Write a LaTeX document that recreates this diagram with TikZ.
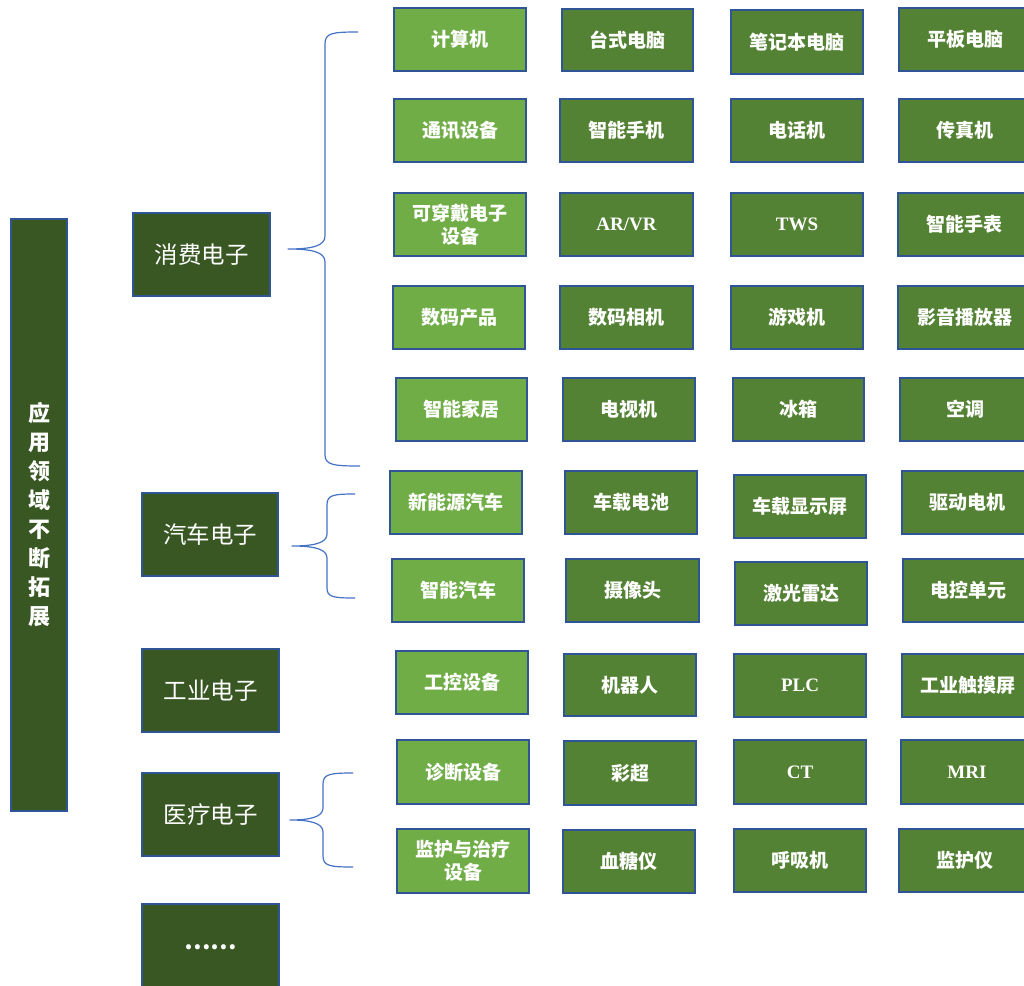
\documentclass[tikz,border=0pt]{standalone}
\usepackage{fontspec}
\newfontfamily\cjk{Noto Sans CJK SC}
\newfontfamily\lat{Liberation Serif}
\definecolor{dk}{HTML}{385723}
\definecolor{lg}{HTML}{70AD47}
\definecolor{mg}{HTML}{548235}
\definecolor{bd}{HTML}{2F5597}
\definecolor{br}{HTML}{4472C4}
\tikzset{
  base/.style={draw=bd, line width=2.4pt, text=white, inner sep=0pt, align=center},
  rootbox/.style={base, fill=dk, font=\cjk\bfseries\fontsize{22}{29}\selectfont},
  catbox/.style={base, fill=dk, font=\cjk\fontsize{23.5}{28}\selectfont},
  firstbox/.style={base, fill=lg, font=\cjk\bfseries\fontsize{19}{23}\selectfont},
  itembox/.style={base, fill=mg, font=\cjk\bfseries\fontsize{19}{23}\selectfont},
  latin/.style={font=\lat\bfseries\fontsize{19}{23}\selectfont},
  bracel/.style={draw=br, line width=1.2pt, line join=round}
}
\newcommand\cell[7]{\node[#6, minimum width={(#4-#2-2.4)*1pt}, minimum height={(#5-#3-2.4)*1pt}] (#1) at ({(#2+#4)/2},{(#3+#5)/2}) {#7};}
\begin{document}
\begin{tikzpicture}[x=1pt,y=-1pt]
\useasboundingbox (0,0) rectangle (1024,985);
% root and categories
\cell{root}{10}{218}{68}{812}{rootbox}{应\\用\\领\\域\\不\\断\\拓\\展}
\cell{c1}{132}{212}{271}{297}{catbox}{消费电子}
\cell{c2}{141}{492}{279}{577}{catbox}{汽车电子}
\cell{c3}{141}{648}{280}{733}{catbox}{工业电子}
\cell{c4}{141}{772}{280}{857}{catbox}{医疗电子}
\cell{c5}{141}{903}{280}{992}{catbox}{\raisebox{-2pt}{\bfseries……}}
% row 1
\cell{r1a}{393}{7}{527}{72}{firstbox}{计算机}
\cell{r1b}{561}{8}{694}{72}{itembox}{台式电脑}
\cell{r1c}{730}{9}{864}{75}{itembox}{笔记本电脑}
\cell{r1d}{898}{7}{1032}{72}{itembox}{平板电脑}
% row 2
\cell{r2a}{393}{98}{527}{163}{firstbox}{通讯设备}
\cell{r2b}{559}{98}{694}{163}{itembox}{智能手机}
\cell{r2c}{730}{98}{864}{163}{itembox}{电话机}
\cell{r2d}{898}{98}{1032}{163}{itembox}{传真机}
% row 3
\cell{r3a}{393}{192}{527}{257}{firstbox}{可穿戴电子\\设备}
\cell{r3b}{559}{192}{694}{257}{itembox,latin}{AR/VR}
\cell{r3c}{730}{192}{864}{257}{itembox,latin}{TWS}
\cell{r3d}{897}{192}{1032}{257}{itembox}{智能手表}
% row 4
\cell{r4a}{392}{285}{526}{350}{firstbox}{数码产品}
\cell{r4b}{559}{285}{694}{350}{itembox}{数码相机}
\cell{r4c}{730}{285}{864}{350}{itembox}{游戏机}
\cell{r4d}{897}{285}{1032}{350}{itembox}{影音播放器}
% row 5
\cell{r5a}{395}{377}{528}{442}{firstbox}{智能家居}
\cell{r5b}{562}{377}{696}{442}{itembox}{电视机}
\cell{r5c}{732}{377}{865}{442}{itembox}{冰箱}
\cell{r5d}{899}{377}{1032}{442}{itembox}{空调}
% row 6
\cell{r6a}{389}{470}{523}{535}{firstbox}{新能源汽车}
\cell{r6b}{564}{470}{698}{535}{itembox}{车载电池}
\cell{r6c}{733}{474}{867}{539}{itembox}{车载显示屏}
\cell{r6d}{901}{470}{1034}{535}{itembox}{驱动电机}
% row 7
\cell{r7a}{391}{558}{525}{623}{firstbox}{智能汽车}
\cell{r7b}{565}{558}{700}{623}{itembox}{摄像头}
\cell{r7c}{734}{561}{868}{626}{itembox}{激光雷达}
\cell{r7d}{902}{558}{1034}{623}{itembox}{电控单元}
% row 8
\cell{r8a}{395}{650}{529}{715}{firstbox}{工控设备}
\cell{r8b}{563}{653}{697}{717}{itembox}{机器人}
\cell{r8c}{733}{653}{867}{718}{itembox,latin}{PLC}
\cell{r8d}{901}{653}{1034}{718}{itembox}{工业触摸屏}
% row 9
\cell{r9a}{396}{739}{530}{805}{firstbox}{诊断设备}
\cell{r9b}{563}{740}{697}{806}{itembox}{彩超}
\cell{r9c}{733}{739}{867}{805}{itembox,latin}{CT}
\cell{r9d}{900}{739}{1034}{805}{itembox,latin}{MRI}
% row 10
\cell{r10a}{396}{828}{530}{894}{firstbox}{监护与治疗\\设备}
\cell{r10b}{562}{829}{696}{894}{itembox}{血糖仪}
\cell{r10c}{733}{828}{867}{893}{itembox}{呼吸机}
\cell{r10d}{898}{828}{1032}{893}{itembox}{监护仪}
% braces
\coordinate (t1) at (288,249);
\coordinate (t2) at (292,546);
\coordinate (t4) at (290,820);
\draw[bracel] (358,32) .. controls (332,32) and (325,33) .. (325,44) -- (325,236)
  .. controls (325,246) and (312,249) .. (t1)
  .. controls (312,249) and (325,252) .. (325,262) -- (325,455)
  .. controls (325,465) and (334,466) .. (360,466);
\draw[bracel] (355,494) .. controls (333,494) and (327,495) .. (327,505) -- (327,534)
  .. controls (327,543) and (314,546) .. (t2)
  .. controls (314,546) and (327,549) .. (327,558) -- (327,588)
  .. controls (327,597) and (333,598) .. (355,598);
\draw[bracel] (353,773) .. controls (330,773) and (323,774) .. (323,784) -- (323,808)
  .. controls (323,817) and (310,820) .. (t4)
  .. controls (310,820) and (323,823) .. (323,832) -- (323,856)
  .. controls (323,866) and (330,867) .. (353,867);
\end{tikzpicture}
\end{document}
